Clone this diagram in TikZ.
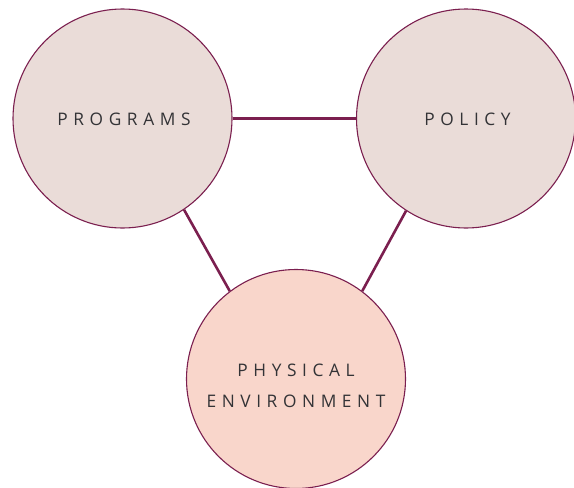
\documentclass[tikz,border=0pt]{standalone}
\usepackage{fontspec}
\setmainfont{Open Sans}
\definecolor{ring}{HTML}{7B1F4F}
\definecolor{paleMauve}{HTML}{EADCD8}
\definecolor{palePeach}{HTML}{F9D6CB}
\definecolor{ink}{HTML}{333336}
% letter-spaced capitals: a fixed gap between letters, none after the last
\newdimen\lsgap \lsgap=5.6pt
\def\spreadit#1{\spreadloop#1\relax}
\def\spreadloop#1#2{#1\ifx\relax#2\else\kern\lsgap\expandafter\spreadloop\expandafter#2\fi}
\begin{document}
\begin{tikzpicture}[x=1pt,y=-1pt,
  bubble/.style={circle, draw=ring, line width=1.1pt, minimum size=219pt, inner sep=0pt},
  caption/.style={text=ink, font=\fontsize{17.3}{30.5}\selectfont, align=center, inner sep=0pt},
  link/.style={draw=ring, line width=2.6pt}]
  \useasboundingbox (0,0) rectangle (574,488);
  \node[bubble, fill=paleMauve] (prog) at (122.5,118.5) {};
  \node[bubble, fill=paleMauve] (pol) at (466,118.5) {};
  \node[bubble, fill=palePeach] (phys) at (296,379) {};
  \node[caption] (progtxt) at (124,119) {\spreadit{PROGRAMS}};
  \node[caption] (poltxt) at (467.5,119) {\spreadit{POLICY}};
  \node[caption] (phystxt) at (296,386) {\spreadit{PHYSICAL}\\\spreadit{ENVIRONMENT}};
  \draw[link] (prog.-0.8) -- (pol.180.8);
  \draw[link] (prog.-56.5) -- (phys.127);
  \draw[link] (pol.237.2) -- (phys.53.5);
\end{tikzpicture}
\end{document}
